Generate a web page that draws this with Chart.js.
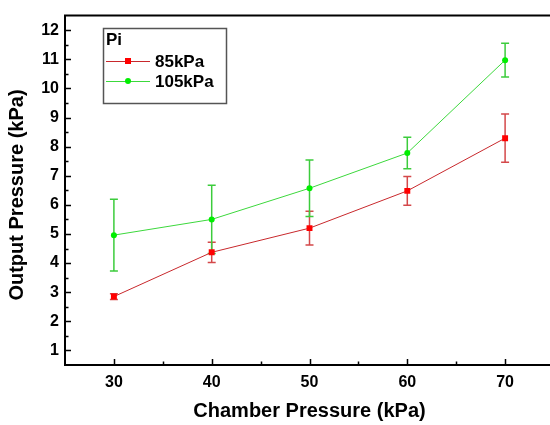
<!DOCTYPE html>
<html>
<head>
<meta charset="utf-8">
<script src="https://cdn.jsdelivr.net/npm/chart.js@4/dist/chart.umd.min.js"></script>
<style>
  html, body { margin: 0; padding: 0; background: #fff; overflow: hidden; }
  #wrap { width: 550px; height: 425px; overflow: hidden; }
</style>
</head>
<body>
<div id="wrap"><canvas id="myChart" width="560" height="425"></canvas></div>
<script>
// chamber pressure (kPa)
const categories = [30, 40, 50, 60, 70];
// output pressure, Pi = 85kPa
const series85 = [2.85, 4.37, 5.20, 6.48, 8.29];
const err85 = [0.10, 0.35, 0.58, 0.49, 0.83];
// output pressure, Pi = 105kPa
const series105 = [4.96, 5.50, 6.57, 7.78, 10.97];
const err105 = [1.23, 1.17, 0.97, 0.54, 0.58];

const xTicks = [30, 40, 50, 60, 70];
const xMinor = [35, 45, 55, 65];
const yTicks = [1, 2, 3, 4, 5, 6, 7, 8, 9, 10, 11, 12];
const yMinor = [1.5, 2.5, 3.5, 4.5, 5.5, 6.5, 7.5, 8.5, 9.5, 10.5, 11.5];

const FONT = '"Liberation Sans", Arial, sans-serif';

function toPoints(vals) {
  return categories.map((x, i) => ({ x: x, y: vals[i] }));
}

// error bars drawn from the scales
const errorBars = {
  id: 'errorBars',
  beforeDatasetsDraw(chart) {
    const ctx = chart.ctx, xs = chart.scales.x, ys = chart.scales.y;
    chart.data.datasets.forEach(ds => {
      ctx.save();
      ctx.strokeStyle = ds.errorColor;
      ctx.lineWidth = 1.5;
      ds.data.forEach((p, i) => {
        const x = xs.getPixelForValue(p.x);
        const top = ys.getPixelForValue(p.y + ds.errors[i]);
        const bot = ys.getPixelForValue(p.y - ds.errors[i]);
        ctx.beginPath();
        ctx.moveTo(x, top); ctx.lineTo(x, bot);
        ctx.moveTo(x - 4, top); ctx.lineTo(x + 4, top);
        ctx.moveTo(x - 4, bot); ctx.lineTo(x + 4, bot);
        ctx.stroke();
      });
      ctx.restore();
    });
  }
};

// inward ticks, top frame line, axis titles, boxed legend
const frame = {
  id: 'frame',
  afterDraw(chart) {
    const ctx = chart.ctx, xs = chart.scales.x, ys = chart.scales.y;
    const a = chart.chartArea;
    ctx.save();
    ctx.strokeStyle = '#000';
    ctx.lineWidth = 2;
    ctx.beginPath();
    ctx.moveTo(a.left - 1, a.top);
    ctx.lineTo(a.right, a.top);
    ctx.stroke();

    ctx.lineWidth = 1.5;
    ctx.beginPath();
    yTicks.forEach(v => { const y = Math.round(ys.getPixelForValue(v)) + 0.5; ctx.moveTo(a.left, y); ctx.lineTo(a.left + 6, y); });
    yMinor.forEach(v => { const y = Math.round(ys.getPixelForValue(v)) + 0.5; ctx.moveTo(a.left, y); ctx.lineTo(a.left + 3.5, y); });
    xTicks.forEach(v => { const x = Math.round(xs.getPixelForValue(v)) + 0.5; ctx.moveTo(x, a.bottom); ctx.lineTo(x, a.bottom - 6); });
    xMinor.forEach(v => { const x = Math.round(xs.getPixelForValue(v)) + 0.5; ctx.moveTo(x, a.bottom); ctx.lineTo(x, a.bottom - 3.5); });
    ctx.stroke();

    // axis titles
    ctx.fillStyle = '#000';
    ctx.font = 'bold 20px ' + FONT;
    ctx.textAlign = 'center';
    ctx.textBaseline = 'middle';
    ctx.fillText('Chamber Pressure (kPa)', (xs.getPixelForValue(25) + xs.getPixelForValue(75)) / 2, 411);
    ctx.save();
    ctx.translate(17, 195);
    ctx.rotate(-Math.PI / 2);
    ctx.fillText('Output Pressure (kPa)', 0, 0);
    ctx.restore();

    // legend box
    ctx.lineWidth = 1.5;
    ctx.strokeStyle = '#555';
    ctx.strokeRect(103.5, 28.5, 123, 75);
    ctx.textAlign = 'left';
    ctx.font = 'bold 17px ' + FONT;
    ctx.fillText('Pi', 106, 40);
    chart.data.datasets.forEach((ds, i) => {
      const y = 61 + i * 20;
      ctx.strokeStyle = ds.borderColor;
      ctx.lineWidth = 1;
      ctx.beginPath();
      ctx.moveTo(106, y + 0.5); ctx.lineTo(150, y + 0.5);
      ctx.stroke();
      ctx.fillStyle = ds.pointBackgroundColor;
      if (ds.pointStyle === 'rect') {
        ctx.fillRect(125, y - 3, 6, 6);
      } else {
        ctx.beginPath(); ctx.arc(128, y, 3, 0, Math.PI * 2); ctx.fill();
      }
      ctx.fillStyle = '#000';
      ctx.fillText(ds.label, 155, y + 1);
    });
    ctx.restore();
  }
};

const data = {
  datasets: [{
    label: '85kPa',
    data: toPoints(series85),
    errors: err85,
    errorColor: '#d4484a',
    borderColor: '#c8282c',
    borderWidth: 1,
    pointStyle: 'rect',
    pointRadius: 4.2,
    pointBackgroundColor: '#ff0000',
    pointBorderWidth: 0,
    tension: 0
  }, {
    label: '105kPa',
    data: toPoints(series105),
    errors: err105,
    errorColor: '#3ccc3c',
    borderColor: '#3cd83c',
    borderWidth: 1,
    pointStyle: 'circle',
    pointRadius: 3,
    pointBackgroundColor: '#00ee00',
    pointBorderWidth: 0,
    tension: 0
  }]
};

const config = {
  type: 'line',
  data: data,
  plugins: [errorBars, frame],
  options: {
    responsive: false,
    animation: false,
    layout: { padding: { top: 7, right: 6, left: 0, bottom: 0 } },
    plugins: { legend: { display: false }, tooltip: { enabled: false } },
    scales: {
      x: {
        type: 'linear',
        min: 25,
        max: 75,
        afterBuildTicks: s => { s.ticks = xTicks.map(v => ({ value: v })); },
        afterFit: s => { s.height = 60; },
        grid: { display: false, drawTicks: false },
        border: { display: true, color: '#000', width: 2 },
        ticks: { color: '#000', padding: 8, font: { family: FONT, size: 16, weight: 'bold' } }
      },
      y: {
        min: 0.5,
        max: 12.5,
        afterBuildTicks: s => { s.ticks = yTicks.map(v => ({ value: v })); },
        afterFit: s => { s.width = 65; },
        grid: { display: false, drawTicks: false },
        border: { display: true, color: '#000', width: 2 },
        ticks: { color: '#000', padding: 6, font: { family: FONT, size: 16, weight: 'bold' } }
      }
    }
  }
};

const myChart = new Chart(document.getElementById('myChart'), config);
</script>
</body>
</html>
